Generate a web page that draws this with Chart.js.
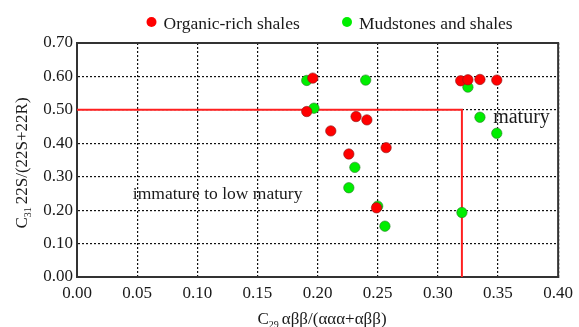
<!DOCTYPE html>
<html>
<head>
<meta charset="utf-8">
<script src="https://cdn.jsdelivr.net/npm/chart.js"></script>
<style>
  html, body { margin: 0; padding: 0; background: #fff; }
</style>
</head>
<body>
<canvas id="myChart" width="579" height="327"></canvas>
<script>
// data
var organicX = [0.196, 0.191, 0.232, 0.241, 0.211, 0.257, 0.226, 0.249, 0.319, 0.325, 0.335, 0.349];
var organicY = [0.595, 0.495, 0.480, 0.470, 0.437, 0.387, 0.368, 0.207, 0.587, 0.590, 0.591, 0.589];
var mudX = [0.191, 0.197, 0.240, 0.325, 0.335, 0.349, 0.231, 0.226, 0.250, 0.256, 0.320];
var mudY = [0.588, 0.505, 0.589, 0.568, 0.478, 0.430, 0.328, 0.267, 0.212, 0.152, 0.193];
var boundaryX = [0, 0.32, 0.32];
var boundaryY = [0.5, 0.5, 0];
var seriesNames = ['Organic-rich shales', 'Mudstones and shales'];

var FONT = '"Liberation Serif", "Times New Roman", serif';

function toPoints(xs, ys) {
    return xs.map(function (x, i) { return {x: x, y: ys[i]}; });
}

// frame round the plot (top and right sides)
var framePlugin = {
    id: 'frame',
    beforeDatasetsDraw: function (chart) {
        var a = chart.chartArea, ctx = chart.ctx;
        ctx.save();
        ctx.strokeStyle = '#333';
        ctx.lineWidth = 2;
        ctx.strokeRect(a.left, a.top, a.right - a.left, a.bottom - a.top);
        ctx.restore();
    }
};

// legend, axis titles (with subscripts) and zone labels
var textPlugin = {
    id: 'texts',
    afterDraw: function (chart) {
        var ctx = chart.ctx, a = chart.chartArea;
        var xs = chart.scales.x, ys = chart.scales.y;
        ctx.save();
        ctx.fillStyle = '#1a1a1a';
        ctx.textBaseline = 'middle';

        // legend
        var leg = [[151.5, '#ff0000', seriesNames[0]], [347, '#00ee00', seriesNames[1]]];
        leg.forEach(function (l) {
            ctx.beginPath();
            ctx.arc(l[0], 22, 5, 0, Math.PI * 2);
            ctx.fillStyle = l[1];
            ctx.fill();
            ctx.fillStyle = '#1a1a1a';
            ctx.font = '17.5px ' + FONT;
            ctx.textAlign = 'left';
            ctx.fillText(l[2], l[0] + 12, 24);
        });

        function subTitle(cx, cy, sub, rest) {
            ctx.font = '17px ' + FONT;
            var wC = ctx.measureText('C').width;
            var wR = ctx.measureText(rest).width;
            ctx.font = '10px ' + FONT;
            var wS = ctx.measureText(sub).width;
            var total = wC + wS + 3 + wR;
            var x0 = cx - total / 2;
            ctx.textAlign = 'left';
            ctx.font = '17px ' + FONT;
            ctx.fillText('C', x0, cy);
            ctx.font = '10px ' + FONT;
            ctx.fillText(sub, x0 + wC, cy + 5);
            ctx.font = '17px ' + FONT;
            ctx.fillText(rest, x0 + wC + wS + 3, cy);
        }
        // x title
        subTitle(322, 320, '29', '\u03b1\u03b2\u03b2/(\u03b1\u03b1\u03b1+\u03b1\u03b2\u03b2)');

        // y title
        ctx.save();
        ctx.translate(23, 163);
        ctx.rotate(-Math.PI / 2);
        subTitle(0, 0, '31', '22S/(22S+22R)');
        ctx.restore();

        // zone labels
        ctx.textAlign = 'left';
        ctx.font = '20px ' + FONT;
        ctx.fillText('matury', xs.getPixelForValue(0.346), ys.getPixelForValue(0.477));
        ctx.font = '17.5px ' + FONT;
        ctx.fillText('immature to low matury', xs.getPixelForValue(0.0464), ys.getPixelForValue(0.248));
        ctx.restore();
    }
};

var ctx = document.getElementById('myChart').getContext('2d');
var chart = new Chart(ctx, {
    type: 'scatter',
    data: {
        datasets: [{
            label: seriesNames[1],
            data: toPoints(mudX, mudY),
            backgroundColor: '#00ee00',
            borderColor: '#2a7a2a',
            borderWidth: 0.6,
            pointRadius: 5.2,
            order: 2
        }, {
            label: seriesNames[0],
            data: toPoints(organicX, organicY),
            backgroundColor: '#ff0000',
            borderColor: '#8a1a1a',
            borderWidth: 0.6,
            pointRadius: 5.2,
            order: 1
        }, {
            label: 'boundary',
            type: 'line',
            data: toPoints(boundaryX, boundaryY),
            borderColor: '#ff2020',
            borderWidth: 2,
            pointRadius: 0,
            fill: false,
            tension: 0,
            order: 3
        }]
    },
    options: {
        responsive: false,
        animation: false,
        layout: { padding: { top: 43, right: 19, left: 0, bottom: 0 } },
        plugins: {
            legend: { display: false },
            tooltip: { enabled: false }
        },
        scales: {
            x: {
                type: 'linear',
                min: 0, max: 0.4,
                afterFit: function (s) { s.height = 50; },
                ticks: {
                    stepSize: 0.05,
                    padding: 6,
                    color: '#1a1a1a',
                    font: { family: FONT, size: 17 },
                    callback: function (v) { return v.toFixed(2); }
                },
                grid: { color: '#111', lineWidth: 1.2, drawTicks: false },
                border: { color: '#333', width: 2, dash: [2, 2] }
            },
            y: {
                type: 'linear',
                min: 0, max: 0.7,
                afterFit: function (s) { s.width = 77; },
                ticks: {
                    stepSize: 0.1,
                    padding: 4,
                    color: '#1a1a1a',
                    font: { family: FONT, size: 17 },
                    callback: function (v) { return v.toFixed(2); }
                },
                grid: { color: '#111', lineWidth: 1.2, drawTicks: false },
                border: { color: '#333', width: 2, dash: [2, 2] }
            }
        }
    },
    plugins: [framePlugin, textPlugin]
});
</script>
</body>
</html>
